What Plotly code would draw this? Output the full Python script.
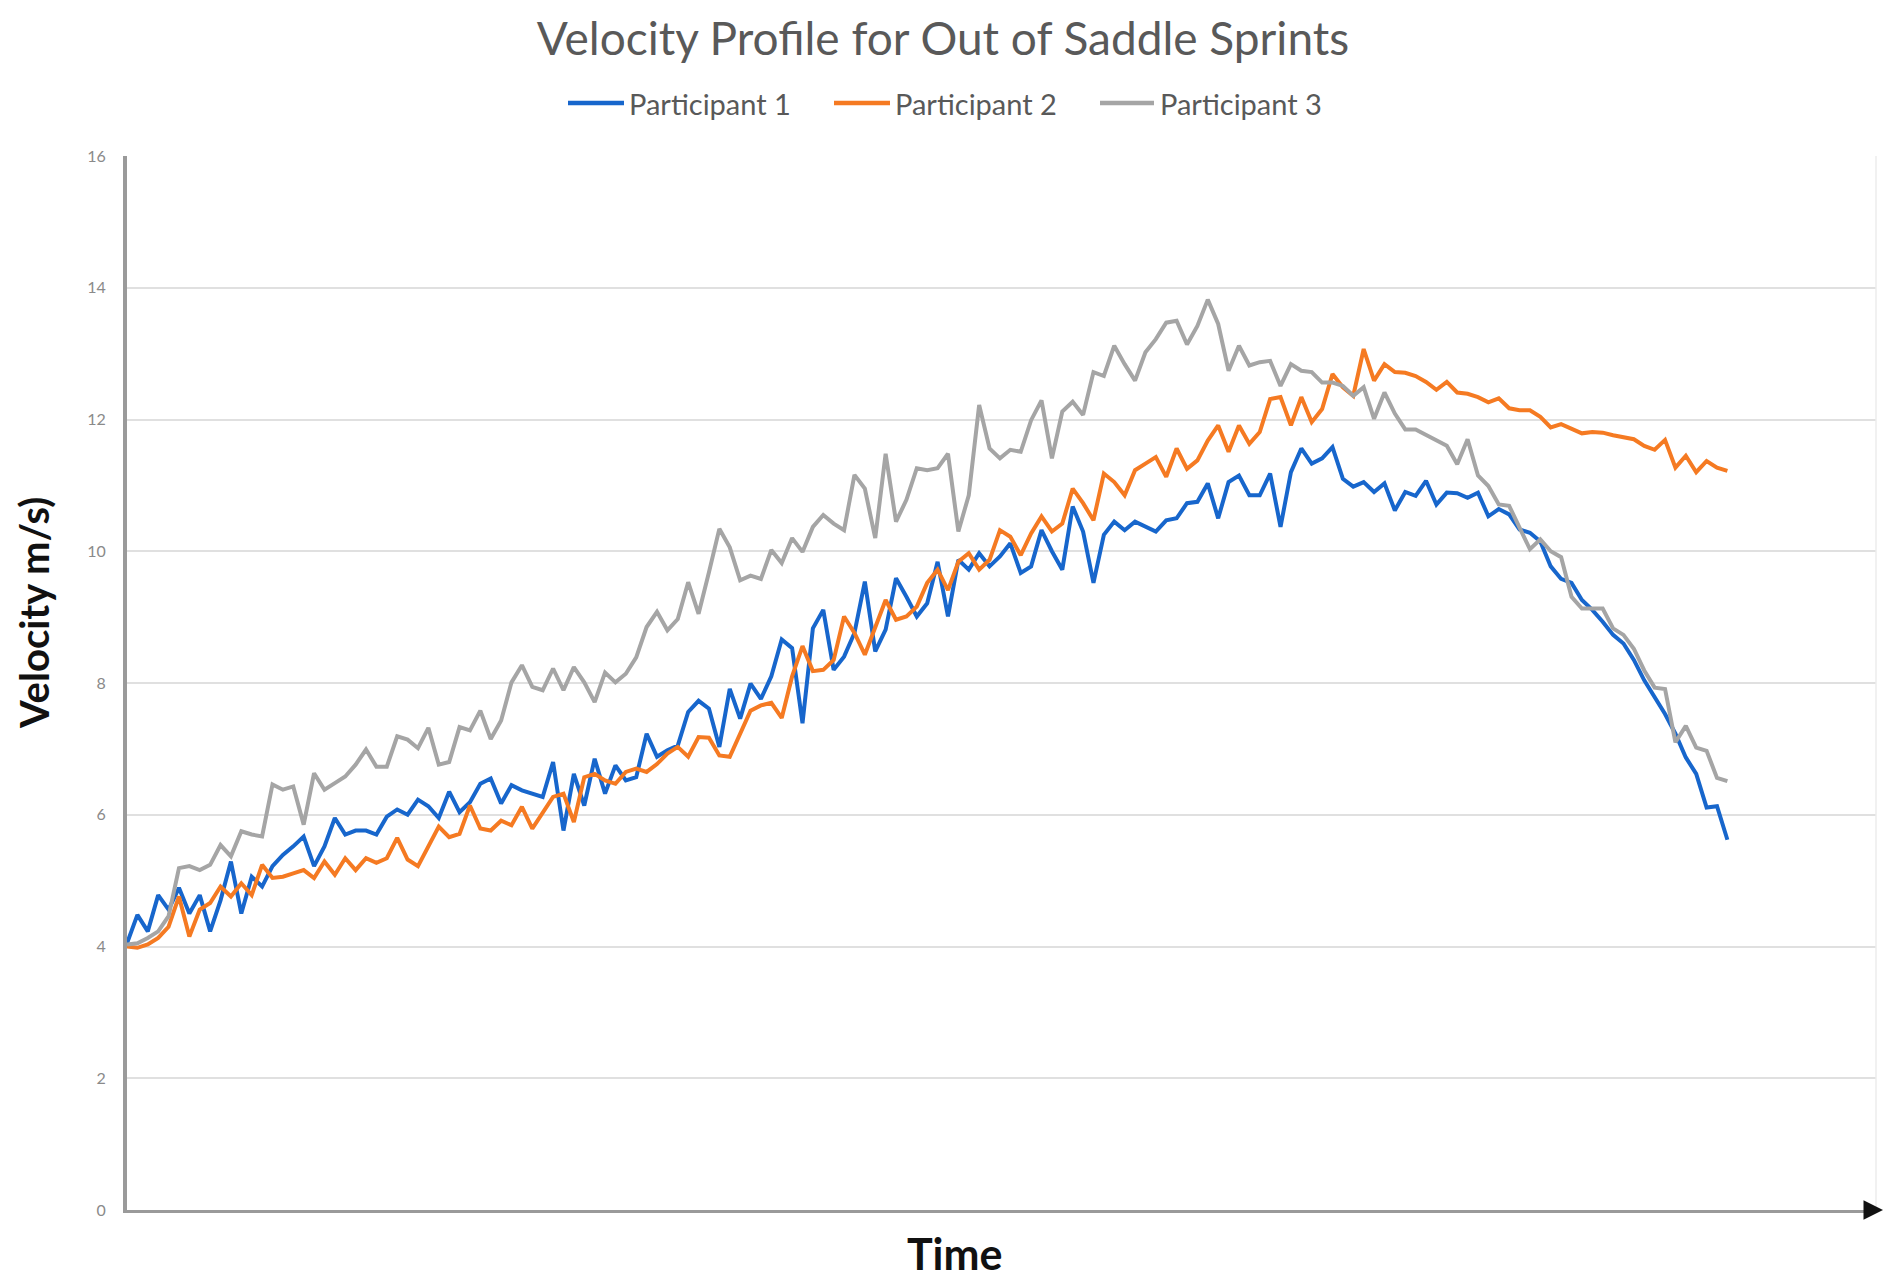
import plotly.graph_objects as go

# Velocity readings (m/s) for each participant, one value per time sample
participant_1 = [
    4.05, 4.48, 4.23, 4.78, 4.56, 4.89, 4.50, 4.78, 4.23, 4.70,
    5.29, 4.50, 5.06, 4.91, 5.22, 5.39, 5.52, 5.67, 5.22, 5.52,
    5.95, 5.70, 5.76, 5.76, 5.70, 5.97, 6.08, 6.00, 6.23, 6.13,
    5.95, 6.35, 6.04, 6.19, 6.47, 6.55, 6.17, 6.45, 6.37, 6.32,
    6.27, 6.80, 5.76, 6.62, 6.14, 6.85, 6.32, 6.75, 6.52, 6.57,
    7.23, 6.88, 6.98, 7.05, 7.56, 7.73, 7.61, 7.03, 7.91, 7.46,
    7.99, 7.76, 8.10, 8.66, 8.53, 7.39, 8.83, 9.11, 8.20, 8.40,
    8.76, 9.54, 8.48, 8.81, 9.59, 9.31, 9.01, 9.21, 9.84, 9.01,
    9.87, 9.72, 9.97, 9.77, 9.92, 10.12, 9.67, 9.77, 10.32, 10.00,
    9.72, 10.68, 10.30, 9.52, 10.25, 10.45, 10.32, 10.45, 10.37, 10.30,
    10.47, 10.50, 10.73, 10.75, 11.03, 10.50, 11.05, 11.15, 10.85, 10.85,
    11.18, 10.37, 11.20, 11.56, 11.33, 11.41, 11.58, 11.10, 10.98, 11.05,
    10.90, 11.03, 10.62, 10.90, 10.84, 11.07, 10.71, 10.89, 10.88, 10.81,
    10.89, 10.53, 10.64, 10.56, 10.33, 10.28, 10.15, 9.77, 9.58, 9.52,
    9.26, 9.11, 8.93, 8.73, 8.60, 8.35, 8.04, 7.79, 7.53, 7.23,
    6.87, 6.62, 6.11, 6.13, 5.62,
]
participant_2 = [
    4.00, 3.98, 4.03, 4.13, 4.30, 4.76, 4.15, 4.56, 4.66, 4.91,
    4.76, 4.96, 4.78, 5.24, 5.04, 5.06, 5.11, 5.16, 5.04, 5.29,
    5.09, 5.34, 5.16, 5.34, 5.27, 5.34, 5.65, 5.32, 5.22, 5.52,
    5.82, 5.66, 5.71, 6.14, 5.79, 5.76, 5.91, 5.84, 6.12, 5.79,
    6.04, 6.27, 6.32, 5.89, 6.57, 6.62, 6.52, 6.47, 6.65, 6.70,
    6.65, 6.77, 6.93, 7.03, 6.88, 7.18, 7.17, 6.90, 6.88, 7.23,
    7.58, 7.66, 7.70, 7.47, 8.10, 8.56, 8.18, 8.20, 8.35, 9.01,
    8.76, 8.43, 8.86, 9.26, 8.96, 9.01, 9.16, 9.52, 9.72, 9.41,
    9.84, 9.97, 9.72, 9.87, 10.32, 10.22, 9.94, 10.27, 10.53, 10.30,
    10.42, 10.95, 10.73, 10.47, 11.18, 11.05, 10.85, 11.23, 11.33, 11.43,
    11.13, 11.56, 11.25, 11.38, 11.68, 11.91, 11.51, 11.91, 11.63, 11.81,
    12.31, 12.34, 11.91, 12.34, 11.96, 12.16, 12.69, 12.49, 12.36, 13.07,
    12.59, 12.84, 12.72, 12.71, 12.66, 12.57, 12.45, 12.57, 12.41, 12.39,
    12.34, 12.26, 12.32, 12.17, 12.14, 12.14, 12.04, 11.88, 11.93, 11.86,
    11.79, 11.81, 11.80, 11.76, 11.73, 11.70, 11.60, 11.54, 11.69, 11.27,
    11.45, 11.20, 11.37, 11.27, 11.22,
]
participant_3 = [
    4.03, 4.05, 4.13, 4.23, 4.46, 5.19, 5.22, 5.16, 5.24, 5.54,
    5.37, 5.75, 5.70, 5.67, 6.46, 6.38, 6.43, 5.85, 6.63, 6.38,
    6.48, 6.58, 6.76, 6.99, 6.73, 6.73, 7.19, 7.14, 7.01, 7.32,
    6.76, 6.80, 7.33, 7.28, 7.58, 7.15, 7.43, 8.01, 8.27, 7.94,
    7.89, 8.22, 7.89, 8.24, 8.01, 7.71, 8.16, 8.01, 8.14, 8.39,
    8.85, 9.08, 8.80, 8.97, 9.53, 9.05, 9.68, 10.34, 10.06, 9.56,
    9.63, 9.58, 10.02, 9.82, 10.20, 9.99, 10.37, 10.55, 10.42, 10.32,
    11.16, 10.95, 10.20, 11.48, 10.45, 10.78, 11.26, 11.23, 11.26, 11.48,
    10.30, 10.85, 12.22, 11.56, 11.41, 11.54, 11.51, 11.99, 12.29, 11.41,
    12.12, 12.27, 12.07, 12.72, 12.66, 13.12, 12.84, 12.59, 13.02, 13.22,
    13.47, 13.50, 13.14, 13.42, 13.82, 13.45, 12.74, 13.12, 12.82, 12.87,
    12.89, 12.51, 12.84, 12.74, 12.72, 12.56, 12.56, 12.51, 12.36, 12.49,
    12.01, 12.41, 12.09, 11.85, 11.85, 11.77, 11.68, 11.60, 11.32, 11.70,
    11.15, 10.99, 10.71, 10.69, 10.36, 10.03, 10.18, 10.00, 9.91, 9.31,
    9.13, 9.13, 9.13, 8.83, 8.73, 8.52, 8.19, 7.93, 7.91, 7.10,
    7.35, 7.02, 6.97, 6.56, 6.51,
]
series_names = ["Participant 1", "Participant 2", "Participant 3"]
series_values = [participant_1, participant_2, participant_3]
series_colors = ["#1766cc", "#f57a22", "#a5a5a5"]
time_index = list(range(len(participant_1)))
y_ticks = [0, 2, 4, 6, 8, 10, 12, 14, 16]

FONT = "Lato"

# figure geometry (the page body adds an 8px margin around the figure)
W, H = 1887, 1278
ML, MR, MT, MB = 119, 19, 148, 76
PW, PH = W - ML - MR, H - MT - MB


def px_x(px):
    return (px - ML) / PW


def px_y(py):
    return (H - MB - py) / PH


fig = go.Figure()
for name, vals, col in zip(series_names, series_values, series_colors):
    fig.add_trace(go.Scatter(
        x=time_index, y=vals, mode="lines", name=name,
        line=dict(color=col, width=4), showlegend=False,
    ))

fig.update_layout(
    width=W, height=H,
    margin=dict(l=ML, r=MR, t=MT, b=MB),
    paper_bgcolor="white", plot_bgcolor="white",
    font=dict(family=FONT, color="#595959"),
    title=dict(
        text="Velocity Profile for Out of Saddle Sprints",
        font=dict(family=FONT, size=46, color="#595959"),
        x=935 / W, xref="container", xanchor="center",
        y=1 - 31 / H, yref="container", yanchor="middle",
    ),
    xaxis=dict(
        range=[0, 168.3],
        showticklabels=False, ticks="",
        showgrid=False, zeroline=False,
        showline=True, linecolor="#9a9a9a", linewidth=3,
    ),
    yaxis=dict(
        range=[0, 16], tickvals=y_ticks,
        ticktext=[str(v) for v in y_ticks],
        showgrid=True, gridcolor="#e0e0e0", gridwidth=1.5,
        zeroline=False,
        showline=True, linecolor="#9a9a9a", linewidth=4,
        ticks="", ticklabelstandoff=14,
        tickfont=dict(family=FONT, size=16, color="#8a8a8a"),
    ),
)

# legend drawn as line samples with labels, centred above the plot
legend_line_x = [(560, 616), (826, 882), (1092, 1146)]
legend_text_x = [619, 885, 1150]
legend_y = 95
for name, col, (x0, x1), tx in zip(series_names, series_colors, legend_line_x, legend_text_x):
    fig.add_shape(type="line", xref="paper", yref="paper",
                  x0=px_x(x0), x1=px_x(x1), y0=px_y(legend_y), y1=px_y(legend_y),
                  line=dict(color=col, width=4.5))
    fig.add_annotation(text=name, xref="paper", yref="paper",
                       x=px_x(tx), y=px_y(legend_y), xanchor="left", yanchor="middle",
                       showarrow=False,
                       font=dict(family=FONT, size=29, color="#595959"))

# arrow head at the end of the time axis
fig.add_annotation(
    x=px_x(1875), y=0, xref="paper", yref="paper",
    ax=-18, ay=0, text="", showarrow=True,
    arrowhead=2, arrowsize=1.3, arrowwidth=3, arrowcolor="#111111",
)
# faint right border of the plot area
fig.add_shape(type="line", xref="paper", yref="paper",
              x0=1, x1=1, y0=0, y1=1,
              line=dict(color="#ececec", width=1.5))

# axis titles
fig.add_annotation(
    text="Velocity m/s)", textangle=-90,
    xref="paper", yref="paper", x=px_x(26), y=px_y(605),
    xanchor="center", yanchor="middle", showarrow=False,
    font=dict(family=FONT, size=40, color="#111111", weight="bold"),
)
fig.add_annotation(
    text="Time",
    xref="paper", yref="paper", x=px_x(947), y=px_y(1245),
    xanchor="center", yanchor="middle", showarrow=False,
    font=dict(family=FONT, size=43, color="#111111", weight="bold"),
)

fig.write_html("out.html")
